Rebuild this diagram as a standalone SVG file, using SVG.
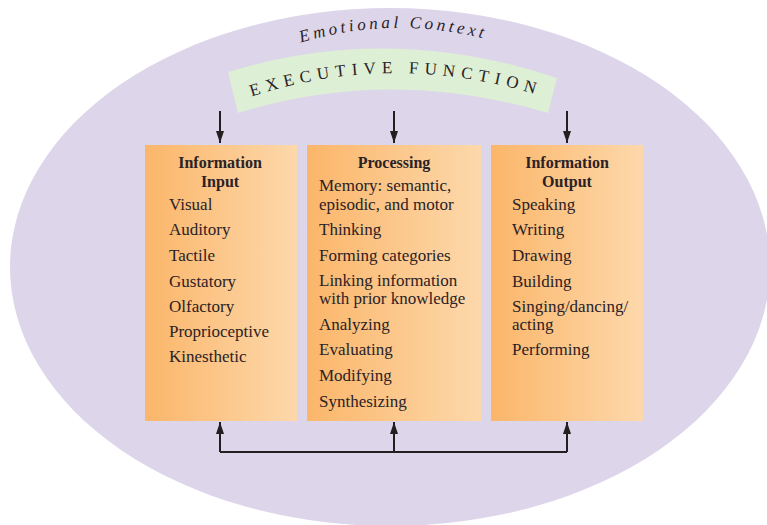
<svg xmlns="http://www.w3.org/2000/svg" width="767" height="525" viewBox="0 0 767 525">
  <style>
    .t { font-family: "Liberation Serif", "DejaVu Serif", serif; font-size: 17px; fill: #2a2226; }
    .h { font-weight: bold; font-size: 16px; text-anchor: middle; }
    .wire { stroke: #231f20; stroke-width: 2; fill: none; }
  </style>
  <defs>
    <linearGradient id="boxFill" x1="0" y1="0" x2="1" y2="0">
      <stop offset="0" stop-color="#fbb66a"/>
      <stop offset="1" stop-color="#fdd8ab"/>
    </linearGradient>
    <marker id="arrow" viewBox="0 0 12 8" refX="12" refY="4" markerWidth="12" markerHeight="8" orient="auto" markerUnits="userSpaceOnUse">
      <path d="M0,0 L12,4 L0,8 z" fill="#231f20"/>
    </marker>
    <path id="ctxArc" d="M290,46 Q392,12 497,42"/>
    <path id="efArc" d="M244,99 Q392,48 548,98"/>
  </defs>

  <!-- emotional context backdrop -->
  <ellipse cx="390" cy="267" rx="380" ry="259" fill="#ddd5ea"/>
  <text class="t" font-style="italic" font-size="17" letter-spacing="3.5"><textPath href="#ctxArc" startOffset="50%" text-anchor="middle">Emotional Context</textPath></text>

  <!-- executive function banner -->
  <g id="executive">
    <path d="M228,72 Q390,22 557,78 L548,113 Q390,66 238,113 Z" fill="#ddefd5"/>
    <text class="t" font-size="18" letter-spacing="6"><textPath href="#efArc" startOffset="50%" text-anchor="middle">EXECUTIVE  FUNCTION</textPath></text>
  </g>

  <g id="input">
    <rect x="145" y="145" width="152" height="276" fill="url(#boxFill)"/>
    <text class="t h" x="220" y="168">Information</text>
    <text class="t h" x="220" y="187">Input</text>
    <text class="t" x="169" y="210">Visual</text>
    <text class="t" x="169" y="235">Auditory</text>
    <text class="t" x="169" y="261">Tactile</text>
    <text class="t" x="169" y="287">Gustatory</text>
    <text class="t" x="169" y="312">Olfactory</text>
    <text class="t" x="169" y="337">Proprioceptive</text>
    <text class="t" x="169" y="362">Kinesthetic</text>
  </g>

  <g id="processing">
    <rect x="307" y="145" width="174" height="276" fill="url(#boxFill)"/>
    <text class="t h" x="394" y="168">Processing</text>
    <text class="t" x="319" y="191">Memory: semantic,</text>
    <text class="t" x="319" y="210">episodic, and motor</text>
    <text class="t" x="319" y="235">Thinking</text>
    <text class="t" x="319" y="261">Forming categories</text>
    <text class="t" x="319" y="286">Linking information</text>
    <text class="t" x="319" y="304">with prior knowledge</text>
    <text class="t" x="319" y="330">Analyzing</text>
    <text class="t" x="319" y="355">Evaluating</text>
    <text class="t" x="319" y="381">Modifying</text>
    <text class="t" x="319" y="407">Synthesizing</text>
  </g>

  <g id="output">
    <rect x="491" y="145" width="152" height="276" fill="url(#boxFill)"/>
    <text class="t h" x="567" y="168">Information</text>
    <text class="t h" x="567" y="187">Output</text>
    <text class="t" x="512" y="210">Speaking</text>
    <text class="t" x="512" y="235">Writing</text>
    <text class="t" x="512" y="261">Drawing</text>
    <text class="t" x="512" y="287">Building</text>
    <text class="t" x="512" y="312">Singing/dancing/</text>
    <text class="t" x="512" y="330">acting</text>
    <text class="t" x="512" y="355">Performing</text>
  </g>

  <g id="connectors">
    <line class="wire" x1="220" y1="111" x2="220" y2="143" marker-end="url(#arrow)"/>
    <line class="wire" x1="394" y1="111" x2="394" y2="143" marker-end="url(#arrow)"/>
    <line class="wire" x1="567" y1="111" x2="567" y2="143" marker-end="url(#arrow)"/>
    <path class="wire" d="M220,452 H567"/>
    <line class="wire" x1="220" y1="452" x2="220" y2="422" marker-end="url(#arrow)"/>
    <line class="wire" x1="394" y1="452" x2="394" y2="422" marker-end="url(#arrow)"/>
    <line class="wire" x1="567" y1="452" x2="567" y2="422" marker-end="url(#arrow)"/>
  </g>
</svg>
